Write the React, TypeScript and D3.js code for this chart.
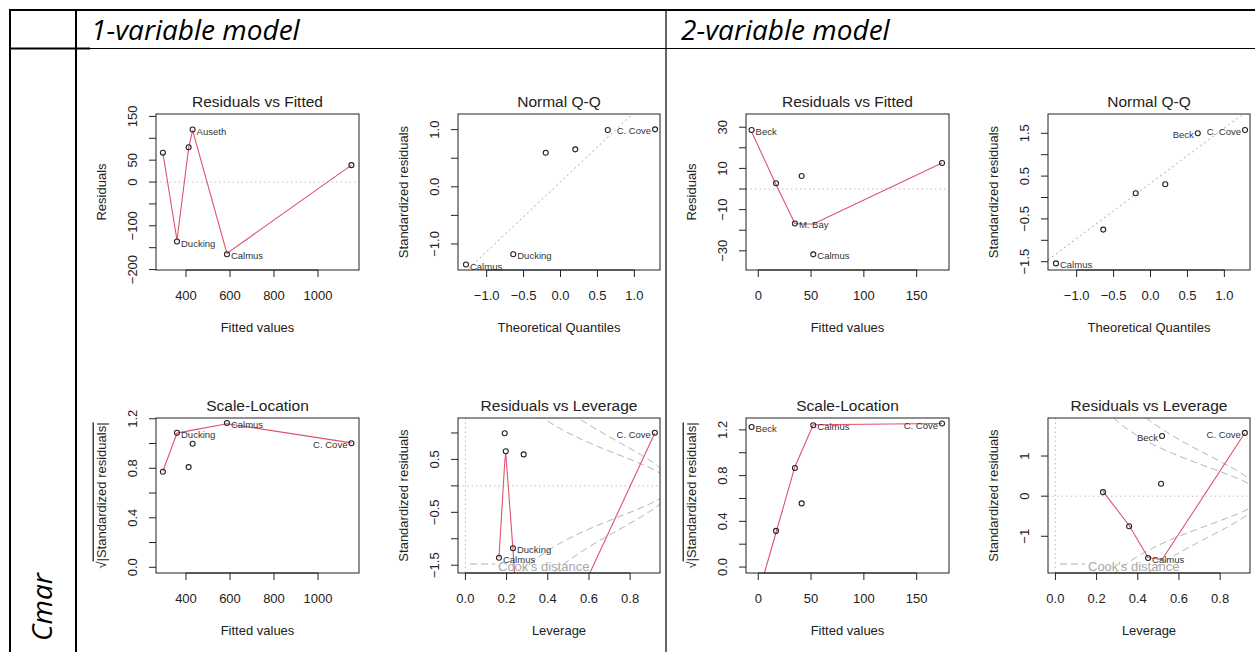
import React from 'react';
import * as d3 from 'd3';

const sites = ['Auseth', 'Beck', 'C. Cove', 'Calmus', 'Ducking', 'M. Bay'];

// 1-variable model (values per site, same order as sites)
const fitted1 = [430, 295, 1152, 586, 359, 412];
const resid1 = [120, 67, 38.6, -165, -136, 79.5];
const stdRes1 = [0.995, 0.595, 1.005, -1.36, -1.18, 0.655];
const leverage1 = [0.191, 0.283, 0.92, 0.163, 0.231, 0.196];
const smoothRF1 = [118, 66, 38.6, -163, -133, 78];
const smoothSL1 = [1.108, 0.776, 1.005, 1.16, 1.085, 1.102];
const smoothRL1 = [0.45, -4.34, 1.0, -1.36, -1.2, 0.62];

// 2-variable model
const fitted2 = [41.1, -6.3, 174, 52.1, 16.8, 34.7];
const resid2 = [6.3, 28.6, 12.6, -31.7, 2.8, -16.7];
const stdRes2 = [0.31, 1.5, 1.577, -1.54, 0.1, -0.75];
const leverage2 = [0.513, 0.518, 0.92, 0.45, 0.231, 0.358];
const smoothRF2 = [-17, 27.8, 12.6, -17, 2.2, -16.7];
const smoothSL2 = [1.013, -0.44, 1.256, 1.245, 0.3, 0.878];
const smoothRL2 = [-1.58, -1.58, 1.575, -1.53, 0.12, -0.73];

const qqTheory = [-1.28, -0.64, -0.2, 0.2, 0.64, 1.28];
const qnorm75 = 0.6745;
const cookLevels = [0.5, 1];

// labelled points
const rfLabels1 = ['Auseth', 'Ducking', 'Calmus'];
const qqLabels1 = ['Calmus', 'Ducking', 'C. Cove'];
const rlLabels1 = ['C. Cove', 'Ducking', 'Calmus'];
const rfLabels2 = ['Beck', 'M. Bay', 'Calmus'];
const qqLabels2 = ['Calmus', 'Beck', 'C. Cove'];
const rlLabels2 = ['Beck', 'Calmus', 'C. Cove'];

// axis limits and ticks
const fitDomain1 = [263.6, 1186.4];
const fitDomain2 = [-11.6, 180.6];
const qqXDomain = [-1.388, 1.347];
const levDomain = [-0.036, 0.945];
const rfYDomain1 = [-201, 155.5];
const rfYDomain2 = [-39.3, 36.4];
const qqYDomain1 = [-1.456, 1.274];
const qqYDomain2 = [-1.694, 1.951];
const slYDomain1 = [-0.046, 1.206];
const slYDomain2 = [-0.052, 1.304];
const rlYDomain1 = [-1.647, 1.283];
const rlYDomain2 = [-1.915, 1.948];

const fitTicks1 = [400, 600, 800, 1000];
const fitTicks2 = [0, 50, 100, 150];
const qqXTicks = [-1, -0.5, 0, 0.5, 1];
const levTicks = [0, 0.2, 0.4, 0.6, 0.8];
const rfYTicks1 = [-200, -150, -100, -50, 0, 50, 100, 150];
const rfYLabels1 = [-200, -100, 0, 50, 150];
const rfYTicks2 = [-30, -20, -10, 0, 10, 20, 30];
const rfYLabels2 = [-30, -10, 10, 30];
const qqYTicks1 = [-1, -0.5, 0, 0.5, 1];
const qqYLabels1 = [-1, 0, 1];
const qqYTicks2 = [-1.5, -1, -0.5, 0, 0.5, 1, 1.5];
const qqYLabels2 = [-1.5, -0.5, 0.5, 1.5];
const slYTicks = [0, 0.2, 0.4, 0.6, 0.8, 1.0, 1.2];
const slYLabels = [0, 0.4, 0.8, 1.2];
const rlYTicks1 = [-1.5, -1, -0.5, 0, 0.5, 1];
const rlYLabels1 = [-1.5, -0.5, 0.5];
const rlYTicks2 = [-1, 0, 1];
const rlYLabels2 = [-1, 0, 1];

const RED = '#DF536B';
const INK = '#222';
const FONT = '"Liberation Sans", Arial, sans-serif';
const HEAD_FONT = '"Open Sans", "Noto Sans", sans-serif';

let clipCounter = 0;

function Panel(props) {
  const {
    box, xDomain, yDomain, xTicks, xLabelFmt, yTicks, yLabels, yLabelFmt,
    title, xTitle, yTitle, sqrtTitle, xs, ys, names, labelled, smooth,
    hline, vline, qqline, cookP,
  } = props;
  const [x0, x1, y0, y1] = box;
  const x = d3.scaleLinear().domain(xDomain).range([x0, x1]);
  const y = d3.scaleLinear().domain(yDomain).range([y1, y0]);
  const id = `clip${clipCounter++}`;
  const tick = 7;

  const order = d3.range(xs.length).sort((a, b) => xs[a] - xs[b]);
  const smoothPath = smooth
    ? d3.line().x((i) => x(xs[i])).y((i) => y(smooth[i]))(order)
    : null;

  // R's qqline: through the first and third quartiles
  let qqPath = null;
  if (qqline) {
    const q1 = d3.quantile(ys, 0.25);
    const q3 = d3.quantile(ys, 0.75);
    const slope = (q3 - q1) / (2 * qnorm75);
    const int = q1 + slope * qnorm75;
    qqPath = d3.line().x((v) => x(v)).y((v) => y(int + slope * v))(xDomain);
  }

  // Cook's distance contours
  const cookPaths = [];
  if (cookP) {
    const hh = d3.range(101).map((k) => 0.005 + (xDomain[1] - 0.005) * k / 100);
    cookLevels.forEach((lvl) => {
      [1, -1].forEach((sgn) => {
        const p = d3.line()
          .x((h) => x(h))
          .y((h) => y(sgn * Math.sqrt(lvl * cookP * (1 - h) / h)))(hh);
        cookPaths.push(p);
      });
    });
  }

  const mid = (xDomain[0] + xDomain[1]) / 2;

  return (
    <g fontFamily={FONT} fill={INK}>
      <defs>
        <clipPath id={id}>
          <rect x={x0} y={y0} width={x1 - x0} height={y1 - y0} />
        </clipPath>
      </defs>
      <text x={(x0 + x1) / 2} y={y0 - 12} dy="0.35em" textAnchor="middle" fontSize={15.5}>{title}</text>
      <g clipPath={`url(#${id})`}>
        {hline !== undefined && (
          <line x1={x0} x2={x1} y1={y(hline)} y2={y(hline)} stroke="#bebebe" strokeDasharray="1.5 3" />
        )}
        {vline !== undefined && (
          <line x1={x(vline)} x2={x(vline)} y1={y0} y2={y1} stroke="#bebebe" strokeDasharray="1.5 3" />
        )}
        {qqPath && <path d={qqPath} fill="none" stroke="#a8a8a8" strokeDasharray="2 3" />}
        {cookPaths.map((p, i) => (
          <path key={i} d={p} fill="none" stroke="#b0b0b0" strokeDasharray="7 4" />
        ))}
        {smoothPath && <path d={smoothPath} fill="none" stroke={RED} strokeWidth={1.1} />}
      </g>
      {xs.map((v, i) => (
        <circle key={i} cx={x(v)} cy={y(ys[i])} r={2.5} fill="none" stroke={INK} strokeWidth={1.1} />
      ))}
      {xs.map((v, i) => {
        if (!labelled.includes(names[i])) return null;
        const left = v > mid;
        return (
          <text key={`l${i}`} x={x(v) + (left ? -4 : 4)} y={y(ys[i]) + 5} textAnchor={left ? 'end' : 'start'}
            fontSize={9.5} fill="#333">{names[i]}</text>
        );
      })}
      {cookP && (
        <g>
          <line x1={x0 + 12} x2={x0 + 37} y1={y1 - 9} y2={y1 - 9} stroke="#b0b0b0" strokeDasharray="7 4" />
          <text x={x0 + 40} y={y1 - 7} dy="0.35em" fontSize={13} fill="#a8a8a8">Cook's distance</text>
        </g>
      )}
      <rect x={x0} y={y0} width={x1 - x0} height={y1 - y0} fill="none" stroke={INK} strokeWidth={1} />
      {xTicks.map((t) => (
        <g key={`x${t}`}>
          <line x1={x(t)} x2={x(t)} y1={y1} y2={y1 + tick} stroke={INK} />
          <text x={x(t)} y={y1 + 25} dy="0.35em" textAnchor="middle" fontSize={13}>{xLabelFmt(t)}</text>
        </g>
      ))}
      <line x1={x(xTicks[0])} x2={x(xTicks[xTicks.length - 1])} y1={y1} y2={y1} stroke={INK} />
      {yTicks.map((t) => (
        <line key={`y${t}`} x1={x0 - tick} x2={x0} y1={y(t)} y2={y(t)} stroke={INK} />
      ))}
      {yLabels.map((t) => (
        <text key={`yl${t}`} transform={`translate(${x0 - 24},${y(t)}) rotate(-90)`} dy="0.35em"
          textAnchor="middle" fontSize={13}>{yLabelFmt(t)}</text>
      ))}
      <text x={(x0 + x1) / 2} y={y1 + 57} dy="0.35em" textAnchor="middle" fontSize={13}>{xTitle}</text>
      {sqrtTitle ? (
        <text transform={`translate(${x0 - 55},${(y0 + y1) / 2}) rotate(-90)`} dy="0.35em" textAnchor="middle" fontSize={13}>
          √<tspan style={{ textDecoration: 'overline' }}>|Standardized residuals|</tspan>
        </text>
      ) : (
        <text transform={`translate(${x0 - 55},${(y0 + y1) / 2}) rotate(-90)`} dy="0.35em" textAnchor="middle" fontSize={13}>{yTitle}</text>
      )}
    </g>
  );
}

const fmt0 = d3.format('d');
const fmt1 = d3.format('.1f');

function qqData(std) {
  const order = d3.range(std.length).sort((a, b) => std[a] - std[b]);
  return { ys: order.map((i) => std[i]), names: order.map((i) => sites[i]) };
}

export default function App() {
  clipCounter = 0;
  const rows = [114, 270, 418, 573];
  const cols = [[156, 359], [458, 660], [746, 949], [1048, 1250]];
  const qq1 = qqData(stdRes1);
  const qq2 = qqData(stdRes2);
  const sl1 = stdRes1.map((v) => Math.sqrt(Math.abs(v)));
  const sl2 = stdRes2.map((v) => Math.sqrt(Math.abs(v)));

  return (
    <svg width={1255} height={652} style={{ position: 'absolute', left: 0, top: 0, background: '#fff' }}>
      {/* table frame */}
      <g stroke="#000">
        <line x1={10} x2={1255} y1={10} y2={10} strokeWidth={2} />
        <line x1={10} x2={90} y1={48.5} y2={48.5} strokeWidth={2} />
        <line x1={90} x2={1255} y1={48.5} y2={48.5} strokeWidth={1} />
        <line x1={10} x2={10} y1={9} y2={652} strokeWidth={2} />
        <line x1={76} x2={76} y1={9} y2={652} strokeWidth={2} />
        <line x1={666} x2={666} y1={9} y2={652} strokeWidth={1.2} />
      </g>
      <g fontFamily={HEAD_FONT} fontStyle="italic" fontSize={28}>
        <text x={91} y={40}>1-variable model</text>
        <text x={681} y={40}>2-variable model</text>
        <text transform="translate(52,607) rotate(-90)" textAnchor="middle">Cmar</text>
      </g>

      <Panel box={[...cols[0], rows[0], rows[1]]} xDomain={fitDomain1} yDomain={rfYDomain1}
        xTicks={fitTicks1} xLabelFmt={fmt0} yTicks={rfYTicks1} yLabels={rfYLabels1} yLabelFmt={fmt0}
        title="Residuals vs Fitted" xTitle="Fitted values" yTitle="Residuals"
        xs={fitted1} ys={resid1} names={sites} labelled={rfLabels1} smooth={smoothRF1} hline={0} />
      <Panel box={[...cols[1], rows[0], rows[1]]} xDomain={qqXDomain} yDomain={qqYDomain1}
        xTicks={qqXTicks} xLabelFmt={fmt1} yTicks={qqYTicks1} yLabels={qqYLabels1} yLabelFmt={fmt1}
        title="Normal Q-Q" xTitle="Theoretical Quantiles" yTitle="Standardized residuals"
        xs={qqTheory} ys={qq1.ys} names={qq1.names} labelled={qqLabels1} qqline />
      <Panel box={[...cols[2], rows[0], rows[1]]} xDomain={fitDomain2} yDomain={rfYDomain2}
        xTicks={fitTicks2} xLabelFmt={fmt0} yTicks={rfYTicks2} yLabels={rfYLabels2} yLabelFmt={fmt0}
        title="Residuals vs Fitted" xTitle="Fitted values" yTitle="Residuals"
        xs={fitted2} ys={resid2} names={sites} labelled={rfLabels2} smooth={smoothRF2} hline={0} />
      <Panel box={[...cols[3], rows[0], rows[1]]} xDomain={qqXDomain} yDomain={qqYDomain2}
        xTicks={qqXTicks} xLabelFmt={fmt1} yTicks={qqYTicks2} yLabels={qqYLabels2} yLabelFmt={fmt1}
        title="Normal Q-Q" xTitle="Theoretical Quantiles" yTitle="Standardized residuals"
        xs={qqTheory} ys={qq2.ys} names={qq2.names} labelled={qqLabels2} qqline />

      <Panel box={[...cols[0], rows[2], rows[3]]} xDomain={fitDomain1} yDomain={slYDomain1}
        xTicks={fitTicks1} xLabelFmt={fmt0} yTicks={slYTicks} yLabels={slYLabels} yLabelFmt={fmt1}
        title="Scale-Location" xTitle="Fitted values" sqrtTitle
        xs={fitted1} ys={sl1} names={sites} labelled={qqLabels1} smooth={smoothSL1} />
      <Panel box={[...cols[1], rows[2], rows[3]]} xDomain={levDomain} yDomain={rlYDomain1}
        xTicks={levTicks} xLabelFmt={fmt1} yTicks={rlYTicks1} yLabels={rlYLabels1} yLabelFmt={fmt1}
        title="Residuals vs Leverage" xTitle="Leverage" yTitle="Standardized residuals"
        xs={leverage1} ys={stdRes1} names={sites} labelled={rlLabels1} smooth={smoothRL1}
        hline={0} vline={0} cookP={2} />
      <Panel box={[...cols[2], rows[2], rows[3]]} xDomain={fitDomain2} yDomain={slYDomain2}
        xTicks={fitTicks2} xLabelFmt={fmt0} yTicks={slYTicks} yLabels={slYLabels} yLabelFmt={fmt1}
        title="Scale-Location" xTitle="Fitted values" sqrtTitle
        xs={fitted2} ys={sl2} names={sites} labelled={qqLabels2} smooth={smoothSL2} />
      <Panel box={[...cols[3], rows[2], rows[3]]} xDomain={levDomain} yDomain={rlYDomain2}
        xTicks={levTicks} xLabelFmt={fmt1} yTicks={rlYTicks2} yLabels={rlYLabels2} yLabelFmt={fmt0}
        title="Residuals vs Leverage" xTitle="Leverage" yTitle="Standardized residuals"
        xs={leverage2} ys={stdRes2} names={sites} labelled={rlLabels2} smooth={smoothRL2}
        hline={0} vline={0} cookP={3} />
    </svg>
  );
}
